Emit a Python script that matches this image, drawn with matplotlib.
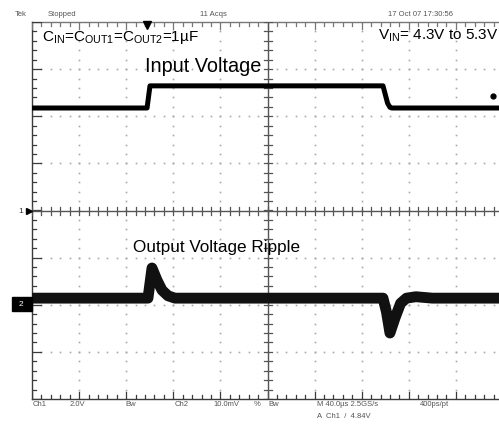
import matplotlib
matplotlib.use("Agg")
import matplotlib.pyplot as plt
import numpy as np
from matplotlib.patches import Rectangle

plt.rcParams['font.family'] = ['Liberation Sans', 'DejaVu Sans']
plt.rcParams['mathtext.fontset'] = 'custom'
plt.rcParams['mathtext.rm'] = 'Liberation Sans'
plt.rcParams['mathtext.it'] = 'Liberation Sans'

# ---- data ----
time_per_div_us = 40.0
ch1_volts_per_div = 2.0
ch2_mv_per_div = 10.0
ch1_position_div = 0.0
ch2_position_div = -2.0
trigger_time_us = 97.5
trigger_level_v = 4.84

# Channel 1: input voltage (V) vs time (us)
vin_t = [0, 97.7, 100.2, 298.1, 302.0, 304.0, 305.5, 400]
vin_v = [4.35, 4.35, 5.29, 5.29, 4.55, 4.38, 4.35, 4.35]

# Channel 2: output voltage ripple (mV) vs time (us)
vout_t = [0, 98.5, 101.9, 106.2, 110.4, 115.5, 121.4, 298.1, 301.0, 304.0,
          308.3, 313.0, 318.0, 326.0, 340.0, 400]
vout_mv = [1.4, 1.4, 7.8, 5.2, 3.1, 1.9, 1.4, 1.4, -1.5, -6.0,
           -2.8, 0.3, 1.4, 1.7, 1.4, 1.4]

header_texts = ["Tek", "Stopped", "11 Acqs", "17 Oct 07 17:30:56"]
footer_line1 = ["Ch1", "2.0V", "Bw", "Ch2", "10.0mV", "%", "Bw",
                "M 40.0\u00b5s 2.5GS/s", "400ps/pt"]
footer_line2 = "A  Ch1  /  4.84V"

# ---- figure ----
W, H = 499, 429
fig = plt.figure(figsize=(W / 100, H / 100), dpi=100)
left_px, right_px, top_px, bot_px = 32, 503, 22, 399
ax = fig.add_axes([left_px / W, 1 - bot_px / H, (right_px - left_px) / W,
                   (bot_px - top_px) / H])
ax.set_xlim(0, 10)
ax.set_ylim(-4, 4)
ax.axis('off')

frame_c = '#3a3a3a'
dot_c = '#a8a8a8'
px_x = 10 / (right_px - left_px)   # div per pixel
px_y = 8 / (bot_px - top_px)

# dotted grid
for gx in range(1, 10):
    if gx == 5:
        continue
    ys = np.arange(-4, 4.001, 0.2)
    ax.plot(np.full_like(ys, gx), ys, ls='none', marker='s', ms=1.2,
            color=dot_c, mec='none')
for gy in range(-3, 4):
    if gy == 0:
        continue
    xs = np.arange(0, 10.001, 0.2)
    ax.plot(xs, np.full_like(xs, gy), ls='none', marker='s', ms=1.2,
            color=dot_c, mec='none')

# frame
ax.plot([0, 0], [-4, 4], color=frame_c, lw=1.0, clip_on=False)
ax.plot([0, 10.2], [-4, -4], color=frame_c, lw=1.0, clip_on=False)
ax.plot([0, 10.2], [4, 4], color='#777777', lw=1.0, clip_on=False)

# frame ticks
for xv in np.arange(0, 10.001, 0.2):
    major = abs(xv - round(xv)) < 1e-6
    L = (7 if major else 4) * px_y
    ax.plot([xv, xv], [-4, -4 + L], color=frame_c, lw=0.9)
    ax.plot([xv, xv], [4, 4 - L], color='#777777', lw=0.9)
for yv in np.arange(-4, 4.001, 0.2):
    major = abs(yv - round(yv)) < 1e-6
    L = (9 if major else 4) * px_x
    ax.plot([0, L], [yv, yv], color=frame_c, lw=0.9)

# center cross with ticks
ax.plot([0, 10.2], [0, 0], color='#555555', lw=1.0, clip_on=False)
ax.plot([5, 5], [-4, 4], color='#555555', lw=1.0)
for xv in np.arange(0, 10.001, 0.2):
    ax.plot([xv, xv], [-4 * px_y, 4 * px_y], color='#555555', lw=0.9)
for yv in np.arange(-4, 4.001, 0.2):
    ax.plot([5 - 4 * px_x, 5 + 4 * px_x], [yv, yv], color='#555555', lw=0.9)

# traces
x1 = np.array(vin_t) / time_per_div_us
y1 = np.array(vin_v) / ch1_volts_per_div + ch1_position_div
ax.plot(x1, y1, color='black', lw=3.6, solid_joinstyle='round',
        solid_capstyle='butt', clip_on=False, zorder=5)
x2 = np.array(vout_t) / time_per_div_us
y2 = np.array(vout_mv) / ch2_mv_per_div + ch2_position_div
ax.plot(x2, y2, color='#111111', lw=7.8, solid_joinstyle='round',
        solid_capstyle='butt', clip_on=False, zorder=5)

# trigger position marker and trigger level dot
ax.plot([trigger_time_us / time_per_div_us], [4 - 2.5 * px_y], marker='v',
        ms=6, color='black', clip_on=False, zorder=6)
ax.plot([9.78], [trigger_level_v / ch1_volts_per_div + ch1_position_div],
        marker='o', ms=3.5, color='black', clip_on=False, zorder=6)

# channel ground markers
fig.text(21 / W, 1 - 212 / H, "1", fontsize=6, color='#333333',
         ha='center', va='center')
ax.plot([-3 * px_x], [ch1_position_div], marker='>', ms=4, color='black',
        clip_on=False)
fig.patches.append(Rectangle((12 / W, 1 - 311 / H), 20 / W, 14 / H,
                             transform=fig.transFigure, color='black'))
fig.text(21 / W, 1 - 304 / H, "2", fontsize=6, color='white',
         ha='center', va='center')
ax.plot([-3 * px_x], [ch2_position_div], marker='>', ms=4, color='white',
        clip_on=False, zorder=7)

# header
hdr_x = [15, 48, 200, 388]
for s, xp in zip(header_texts, hdr_x):
    fig.text(xp / W, 1 - 14 / H, s, fontsize=5.5, color='#555555',
             ha='left', va='center')

# footer
f1_x = [33, 70, 125, 175, 213, 254, 268, 317, 420]
for s, xp in zip(footer_line1, f1_x):
    fig.text(xp / W, 1 - 405 / H, s, fontsize=5.5, color='#555555',
             ha='left', va='center')
fig.text(317 / W, 1 - 416 / H, footer_line2, fontsize=5.5, color='#555555',
         ha='left', va='center')

# annotations
fig.text(42 / W, 1 - 38 / H,
         "C$_{\\mathrm{IN}}$=C$_{\\mathrm{OUT1}}$=C$_{\\mathrm{OUT2}}$=1\u00b5F",
         fontsize=11, color='black', ha='left', va='center')
fig.text(498 / W, 1 - 36 / H, r"V$_{\mathrm{IN}}$= 4.3V to 5.3V",
         fontsize=11, color='black', ha='right', va='center')
fig.text(145 / W, 1 - 67 / H, "Input Voltage", fontsize=14.3, color='black',
         ha='left', va='center')
fig.text(133 / W, 1 - 247 / H, "Output Voltage Ripple", fontsize=12.3,
         color='black', ha='left', va='center')

fig.savefig("out.png", dpi=100)
